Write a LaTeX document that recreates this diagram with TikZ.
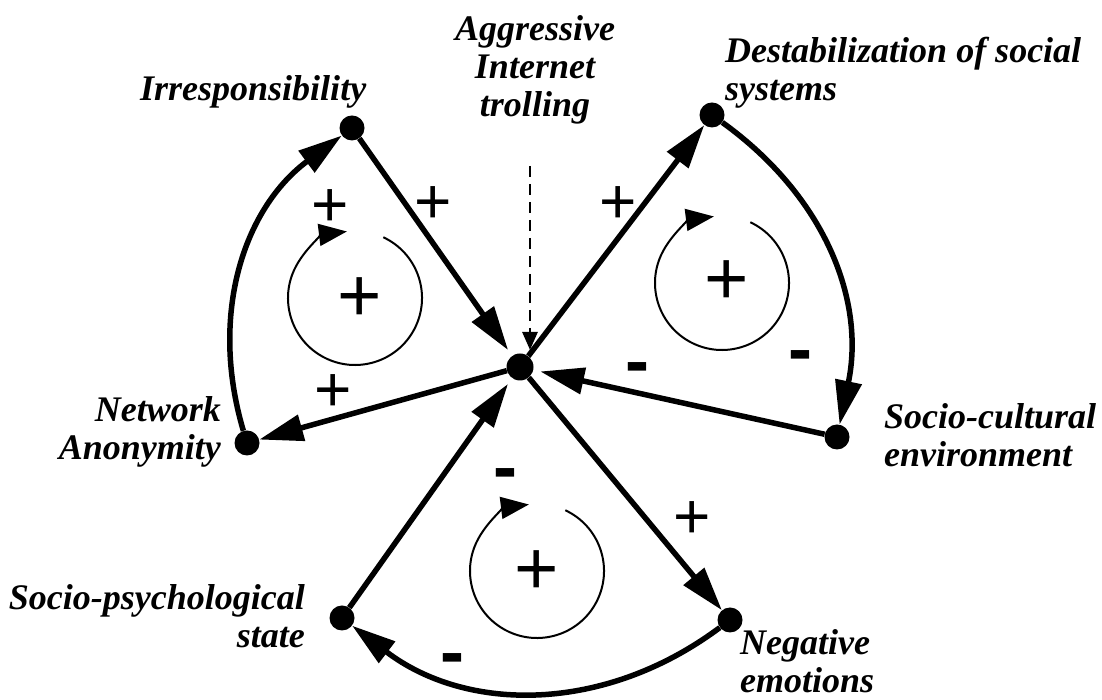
\documentclass[tikz,border=0pt]{standalone}
\usepackage{fontspec}
\setmainfont{Liberation Serif}
\newfontfamily\signfont{Liberation Sans}
\usetikzlibrary{arrows.meta}

\tikzset{
  factor/.style={font=\fontsize{36}{38}\selectfont\bfseries\itshape, inner sep=0pt},
  dot/.style={circle, fill=black, inner sep=0pt, minimum size=25pt},
  link/.style={line width=5.5pt, -{Triangle[length=44pt,width=26pt]}},
  loopring/.style={line width=2pt, -{Triangle[length=28pt,width=22pt]}},
  plus/.style={font=\signfont\fontsize{64}{64}\selectfont, inner sep=0pt},
  minus/.style={font=\signfont\bfseries\fontsize{72}{72}\selectfont, inner sep=0pt},
  bigplus/.style={font=\signfont\fontsize{76}{76}\selectfont, inner sep=0pt}
}

\begin{document}
\begin{tikzpicture}[x=1pt, y=1pt]
  \useasboundingbox (0,0) rectangle (1102,700);

  % Variables of the causal loop
  \node[dot, minimum size=27pt] (troll) at (520,333) {};
  \node[dot] (irr) at (352,572) {};
  \node[dot] (des) at (712,585) {};
  \node[dot] (net) at (247,257) {};
  \node[dot] (soc) at (837,263) {};
  \node[dot] (psy) at (342,82)  {};
  \node[dot] (neg) at (730,80)  {};

  % Names of the variables
  \node[factor, anchor=base west] (irrtext) at (140,599) {Irresponsibility};
  \node[factor, align=center, anchor=north] (aggr) at (535,685) {Aggressive\\Internet\\trolling};
  \node[factor, align=left, anchor=north west] (destext) at (725,663) {Destabilization of social\\systems};
  \node[factor, align=right, anchor=north east] (nettext) at (221,304) {Network\\Anonymity};
  \node[factor, align=left, anchor=north west] (soctext) at (884,297) {Socio-cultural\\environment};
  \node[factor, align=right, anchor=north east] (psytext) at (305,116) {Socio-psychological\\state};
  \node[factor, align=left, anchor=north west] (negtext) at (740,71) {Negative\\emotions};

  % Causal links
  \draw[link, shorten >=7pt] (irr) -- (troll);
  \draw[link] (troll) -- (des);
  \draw[link] (troll) -- (net);
  \draw[link] (net) to[bend left=35] (irr);
  \draw[link] (des) to[bend left=33] (soc);
  \draw[link, shorten >=7pt] (soc) -- (troll);
  \draw[link] (troll) -- (neg);
  \draw[link] (neg) to[bend left=37] (psy);
  \draw[link, shorten >=7pt] (psy) -- (troll);

  % External input
  \coordinate (trollstart) at (530,534);
  \coordinate (trollend) at (530,350);
  \draw[line width=2.8pt, dash pattern=on 11pt off 7pt, -{Triangle[length=18pt,width=15pt]}] (trollstart) -- (trollend);

  % Polarities
  \node[plus] (p1) at (330,492) {+};
  \node[plus] (p2) at (433,495) {+};
  \node[plus] (p3) at (618,495) {+};
  \node[plus] (p4) at (333,307) {+};
  \node[minus] (m1) at (800,338) {-};
  \node[minus] (m2) at (637,326) {-};
  \node[plus] (p5) at (692,180) {+};
  \node[minus] (m3) at (505,220) {-};
  \node[minus] (m4) at (452,35)  {-};

  % Reinforcing loops
  \foreach \x/\y in {355/402, 722/417, 537/129}
    \draw[loopring] (\x,\y) ++(65:67) arc[start angle=65, end angle=-263, radius=67];
  \node[bigplus] (loopa) at (360,400) {+};
  \node[bigplus] (loopb) at (727,417) {+};
  \node[bigplus] (loopc) at (537,127) {+};
\end{tikzpicture}
\end{document}
